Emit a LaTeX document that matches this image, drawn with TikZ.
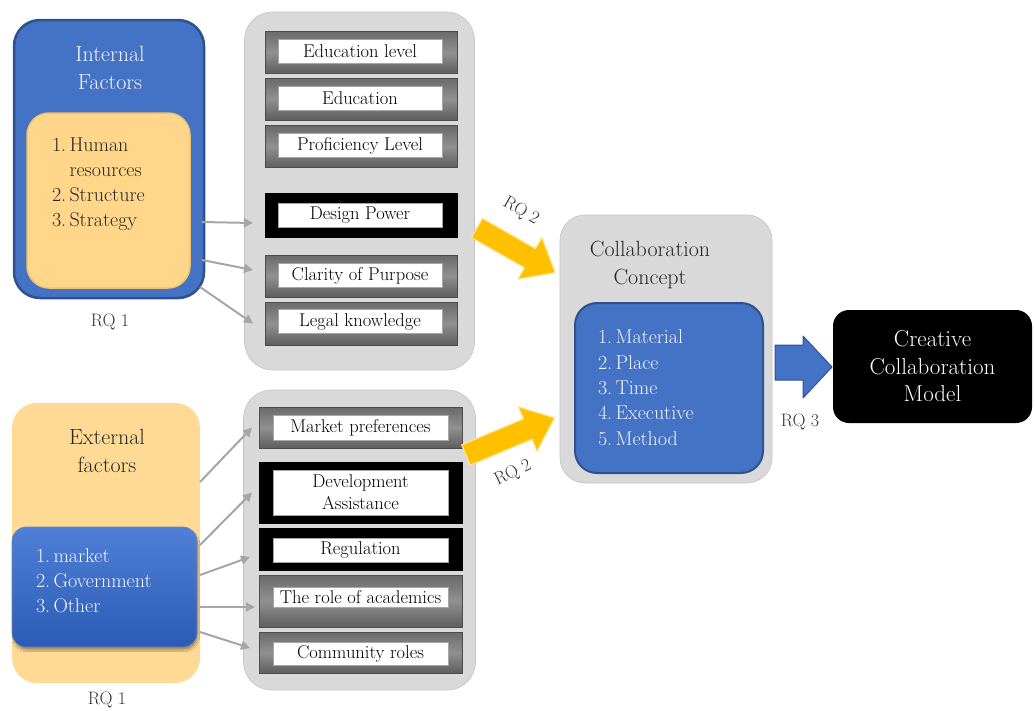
\documentclass[tikz,border=0pt]{standalone}
\usetikzlibrary{arrows.meta,shadows.blur}

\definecolor{bluefill}{HTML}{4472C4}
\definecolor{blueedge}{HTML}{2F528F}
\definecolor{bluetop}{HTML}{4F80D6}
\definecolor{bluebot}{HTML}{2C5BB3}
\definecolor{goldfill}{HTML}{FFD68A}
\definecolor{goldlight}{HTML}{FFDA95}
\definecolor{goldedge}{HTML}{F1C46C}
\definecolor{panel}{HTML}{D9D9D9}
\definecolor{paneledge}{HTML}{C4C4C4}
\definecolor{arrowgold}{HTML}{FFC000}
\definecolor{linkgray}{HTML}{A6A6A6}
\definecolor{inkdark}{HTML}{262626}
\definecolor{inklight}{HTML}{F2F5FB}
\definecolor{frametop}{HTML}{6A6A6A}
\definecolor{framemid}{HTML}{909090}
\definecolor{framebot}{HTML}{5E5E5E}

\begin{document}
\begin{tikzpicture}[x=1pt,y=1pt,
  every node/.style={inner sep=0pt,outer sep=0pt},
  headfont/.style={font=\fontsize{22}{28}\selectfont},
  listfont/.style={font=\fontsize{20}{25}\selectfont},
  rqlabel/.style={font=\fontsize{18}{20}\selectfont,text=black!80},
  panelbox/.style={fill=panel,draw=paneledge,line width=0.6pt,rounded corners=28pt},
  grayframe/.style={draw=black!70,line width=0.8pt,top color=frametop,bottom color=framebot,middle color=framemid,minimum height=42pt},
  blackframe/.style={draw=black,line width=0.8pt,fill=black,minimum height=42pt},
  whitebar/.style={fill=white,draw=black!35,line width=0.5pt,minimum height=24pt,font=\fontsize{18.5}{22}\selectfont,text=black,align=center},
  conn/.style={draw=linkgray,line width=2pt,-{Triangle[length=9pt,width=9pt]}},
  bigarrow/.style={fill=arrowgold,draw=arrowgold!45,line width=1.2pt,line join=round}
]
\useasboundingbox (0,0) rectangle (1035,-710);

% ---------- internal factors ----------
\node[fill=bluefill,draw=blueedge,line width=2.5pt,rounded corners=26pt,
      minimum width=190pt,minimum height=278pt] (intl) at (109,-159) {};
\node[headfont,text=inklight,align=center] (intlT) at (110,-68) {Internal\\Factors};
\node[fill=goldfill,draw=goldedge,line width=1.5pt,rounded corners=22pt,
      minimum width=163pt,minimum height=175pt] (intlIn) at (108.5,-200.5) {};
\node[listfont,text=inkdark,align=left,anchor=north west] (intlL) at (52,-138)
  {1.\,Human\\\hphantom{1.\,}resources\\2.\,Structure\\3.\,Strategy};
\node[rqlabel] (rqIa) at (110,-322) {RQ 1};

% ---------- internal sub-factors ----------
\node[panelbox,minimum width=230pt,minimum height=358pt] (topP) at (359.5,-191) {};
\node[grayframe,minimum width=192pt] (el) at (361,-52.5) {};
\node[whitebar,minimum width=164pt] (elT) at (360,-51.5) {Education level};
\node[grayframe,minimum width=192pt] (ed) at (361,-99) {};
\node[whitebar,minimum width=164pt] (edT) at (360,-98.5) {Education};
\node[grayframe,minimum width=192pt] (pl) at (361,-146.5) {};
\node[whitebar,minimum width=164pt] (plT) at (360,-145.5) {Proficiency Level};
\node[blackframe,minimum width=192pt,minimum height=44pt] (dp) at (361,-215) {};
\node[whitebar,minimum width=164pt] (dpT) at (360,-215) {Design Power};
\node[grayframe,minimum width=192pt] (cp) at (361,-276) {};
\node[whitebar,minimum width=164pt] (cpT) at (360,-275.5) {Clarity of Purpose};
\node[grayframe,minimum width=192pt,minimum height=43pt] (lk) at (361,-323.5) {};
\node[whitebar,minimum width=164pt] (lkT) at (360,-321.5) {Legal knowledge};

% ---------- external factors ----------
\node[fill=goldlight,rounded corners=25pt,minimum width=188pt,minimum height=280pt] (ext) at (106,-543) {};
\node[headfont,text=inkdark,align=center] (extT) at (107,-451) {External\\factors};
\node[top color=bluetop,bottom color=bluebot,draw=blueedge!70,line width=0.6pt,rounded corners=14pt,
      minimum width=185pt,minimum height=120pt,
      blur shadow={shadow xshift=1pt,shadow yshift=-3pt,shadow blur steps=6,shadow opacity=35}] (extIn) at (104.5,-587) {};
\node[listfont,text=inklight,align=left,anchor=north west] (extL) at (36,-549)
  {1.\,market\\2.\,Government\\3.\,Other};
\node[rqlabel] (rqIb) at (107,-700) {RQ 1};

% ---------- external sub-factors ----------
\node[panelbox,minimum width=232pt,minimum height=300pt] (botP) at (359.5,-540) {};
\node[grayframe,minimum width=203pt,minimum height=41pt] (mp) at (360.5,-427.5) {};
\node[whitebar,minimum width=175pt,minimum height=25pt] (mpT) at (360.5,-427.5) {Market preferences};
\node[blackframe,minimum width=203pt,minimum height=61pt] (da) at (360.5,-492.5) {};
\node[whitebar,minimum width=175pt,minimum height=45pt] (daT) at (360.5,-492.5) {Development\\Assistance};
\node[blackframe,minimum width=203pt] (rg) at (360.5,-549) {};
\node[whitebar,minimum width=175pt] (rgT) at (360.5,-550) {Regulation};
\node[grayframe,minimum width=203pt,minimum height=52pt] (ra) at (360.5,-601) {};
\node[whitebar,minimum width=175pt,minimum height=20pt] (raT) at (360.5,-597) {The role of academics};
\node[grayframe,minimum width=203pt,minimum height=41pt] (cr) at (360.5,-652.5) {};
\node[whitebar,minimum width=175pt,minimum height=23pt] (crT) at (360.5,-653.5) {Community roles};

% ---------- collaboration concept ----------
\node[panelbox,rounded corners=25pt,minimum width=212pt,minimum height=268pt] (coll) at (666,-349) {};
\node[headfont,text=inkdark,align=center] (collT) at (650,-265) {Collaboration\\Concept};
\node[fill=bluefill,draw=blueedge,line width=2pt,rounded corners=22pt,
      minimum width=188pt,minimum height=170pt] (collIn) at (669,-388) {};
\node[font=\fontsize{20}{25.3}\selectfont,text=inklight,align=left,anchor=north west] (collL) at (598,-330)
  {1.\,Material\\2.\,Place\\3.\,Time\\4.\,Executive\\5.\,Method};

% ---------- creative collaboration model ----------
\node[fill=black,rounded corners=16pt,minimum width=199pt,minimum height=113pt,
      text=white,align=center,font=\fontsize{23}{27.5}\selectfont] (cm) at (932.5,-366.5)
  {Creative\\Collaboration\\Model};

% ---------- connectors from the factor groups ----------
\draw[conn] ([xshift=-2pt,yshift=-63pt]intl.east) -- ([xshift=-12pt,yshift=-8pt]dp.west);
\draw[conn] ([xshift=-2pt,yshift=-101pt]intl.east) -- ([xshift=-12pt,yshift=6pt]cp.west);
\draw[conn] ([xshift=-4pt,yshift=-128pt]intl.east) -- ([xshift=-12pt]lk.west);

\draw[conn] ([yshift=61pt]ext.east) -- ([xshift=-7pt]mp.west);
\draw[conn] ([yshift=-2pt]ext.east) -- ([xshift=-7pt]da.west);
\draw[conn] ([yshift=-32pt]ext.east) -- ([xshift=-9pt,yshift=-8pt]rg.west);
\draw[conn] ([yshift=-64pt]ext.east) -- ([xshift=-4pt,yshift=-6pt]ra.west);
\draw[conn] ([yshift=-89pt]ext.east) -- ([xshift=-9pt,yshift=4.5pt]cr.west);

% ---------- block arrows into and out of the concept ----------
\begin{scope}[shift={(477,-228)},rotate=-29.7]
  \draw[bigarrow] (0,11) -- (61,11) -- (61,24) -- (90,0) -- (61,-24) -- (61,-11) -- (0,-11) -- cycle;
\end{scope}
\begin{scope}[shift={(466,-455)},rotate=22.8]
  \draw[bigarrow] (0,11) -- (67,11) -- (67,24) -- (96,0) -- (67,-24) -- (67,-11) -- (0,-11) -- cycle;
\end{scope}
\node[rqlabel,rotate=-30] (rqIIa) at (521,-211) {RQ 2};
\node[rqlabel,rotate=26] (rqIIb) at (513,-473) {RQ 2};

\draw[fill=bluefill,draw=blueedge,line width=1pt,line join=round]
  (775,-345) -- (803,-345) -- (803,-336) -- (832,-367) -- (803,-398) -- (803,-380) -- (775,-380) -- cycle;
\node[rqlabel] (rqIII) at (800,-422) {RQ 3};

\end{tikzpicture}
\end{document}
